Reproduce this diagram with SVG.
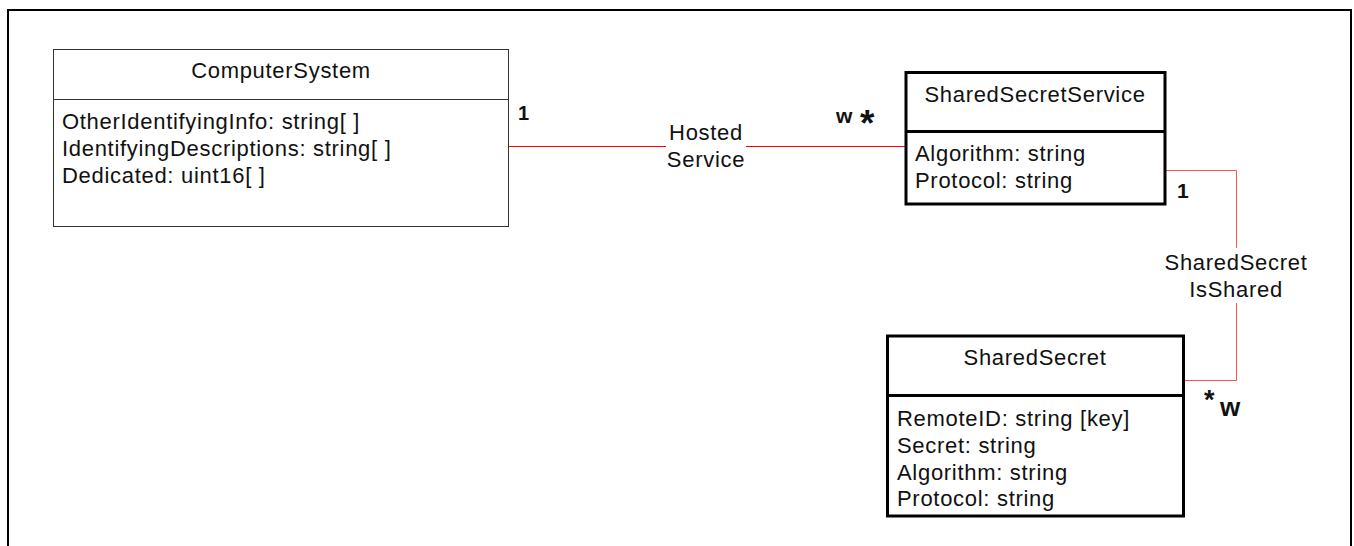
<svg xmlns="http://www.w3.org/2000/svg" width="1354" height="546" viewBox="0 0 1354 546">
<style>
.t{font-family:"Liberation Sans",Arial,sans-serif;font-size:22px;letter-spacing:0.7px;fill:#111}
.c{text-anchor:middle}
.m{font-family:"Liberation Sans",Arial,sans-serif;font-weight:bold;fill:#111}
.thin{fill:#fff;stroke:#333;stroke-width:1}
.thick{fill:#fff;stroke:#000;stroke-width:3}
.dthin{stroke:#333;stroke-width:1}
.dthick{stroke:#000;stroke-width:3}
</style>
<rect x="0" y="0" width="1354" height="546" fill="#fff"/>
<path d="M8,546 V10 H1351 V546" fill="none" stroke="#000" stroke-width="2"/>
<g id="connectors">
  <g id="hostedservice">
    <path d="M509,146.5 H905.5 V138" fill="none" stroke="#f00" stroke-width="1"/>
    <rect x="666" y="120" width="80" height="52" fill="#fff"/>
    <text class="t c" x="706" y="140">Hosted</text>
    <text class="t c" x="706" y="167">Service</text>
    <text class="m" x="518" y="120" font-size="20">1</text>
    <text class="m" x="836" y="123" font-size="21">w</text>
    <text class="m" x="860" y="136" font-size="37">*</text>
  </g>
  <g id="sharedsecretisshared">
    <path d="M1165,170.5 H1236.5 V380.5 H1183" fill="none" stroke="#ff5050" stroke-width="1"/>
    <rect x="1160" y="248" width="152" height="55" fill="#fff"/>
    <text class="t c" x="1236" y="270">SharedSecret</text>
    <text class="t c" x="1236" y="297">IsShared</text>
    <text class="m" x="1177" y="198" font-size="21">1</text>
    <text class="m" x="1204" y="409" font-size="27">*</text>
    <text class="m" x="1220" y="416" font-size="26">w</text>
  </g>
</g>
<g id="ComputerSystem">
  <rect class="thin" x="53.5" y="49.5" width="455" height="177"/>
  <line class="dthin" x1="53.5" y1="99.5" x2="508.5" y2="99.5"/>
  <text class="t c" x="281" y="78">ComputerSystem</text>
  <text class="t" x="62" y="129">OtherIdentifyingInfo: string[ ]</text>
  <text class="t" x="62" y="156">IdentifyingDescriptions: string[ ]</text>
  <text class="t" x="62" y="183">Dedicated: uint16[ ]</text>
</g>
<g id="SharedSecretService">
  <rect class="thick" x="906" y="72.5" width="259" height="131.5"/>
  <line class="dthick" x1="906" y1="131.5" x2="1165" y2="131.5"/>
  <text class="t c" x="1035" y="102">SharedSecretService</text>
  <text class="t" x="915" y="161">Algorithm: string</text>
  <text class="t" x="915" y="188">Protocol: string</text>
</g>
<g id="SharedSecret">
  <rect class="thick" x="887.5" y="336" width="296" height="180"/>
  <line class="dthick" x1="887.5" y1="395.5" x2="1183.5" y2="395.5"/>
  <text class="t c" x="1035" y="365">SharedSecret</text>
  <text class="t" x="897" y="426">RemoteID: string [key]</text>
  <text class="t" x="897" y="453">Secret: string</text>
  <text class="t" x="897" y="480">Algorithm: string</text>
  <text class="t" x="897" y="506">Protocol: string</text>
</g>
</svg>
